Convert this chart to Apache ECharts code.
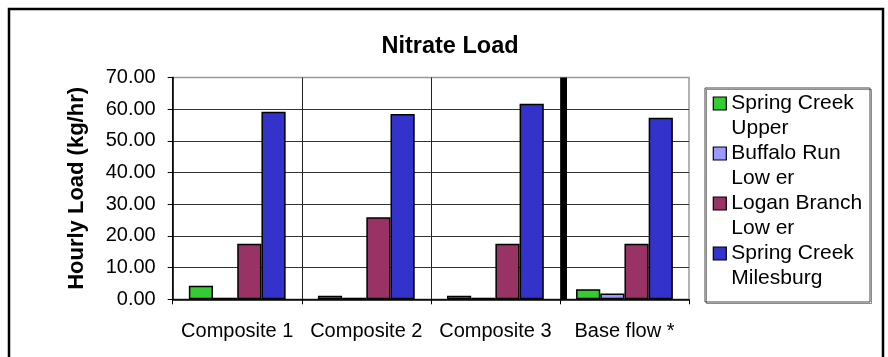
<!DOCTYPE html>
<html>
<head>
<meta charset="utf-8">
<script src="https://cdn.jsdelivr.net/npm/echarts@6/dist/echarts.min.js"></script>
<style>
html,body{margin:0;padding:0;background:#fff;}
#chart{width:888px;height:357px;}
</style>
</head>
<body>
<div id="chart"></div>
<script>
// ---- data ----
const categories = ['Composite 1', 'Composite 2', 'Composite 3', 'Base flow *'];
const seriesNames = ['Spring Creek\nUpper', 'Buffalo Run\nLow er', 'Logan Branch\nLow er', 'Spring Creek\nMilesburg'];
const springCreekUpper = [4.3, 1.1, 1.1, 3.2];
const buffaloRunLower = [0.5, 0.5, 0.5, 1.8];
const loganBranchLower = [17.5, 25.9, 17.5, 17.5];
const springCreekMilesburg = [59.2, 58.5, 61.7, 57.3];
const yTicks = [0, 10, 20, 30, 40, 50, 60, 70];
const dividerPosition = 3.03; // thick separator before "Base flow *"

const colors = ['#33cc33', '#9999ff', '#993366', '#3333cc'];
const values = [springCreekUpper, buffaloRunLower, loganBranchLower, springCreekMilesburg];
const FONT = 'Arial, "Liberation Sans", sans-serif';

const chart = echarts.init(document.getElementById('chart'), null, {renderer: 'canvas'});

const barSeries = seriesNames.map((n, i) => ({
  name: n,
  type: 'bar',
  data: values[i],
  barGap: '0%',
  barCategoryGap: '25%',
  itemStyle: {color: colors[i], borderColor: '#000', borderWidth: 1.5},
  emphasis: {disabled: true},
  animation: false
}));

chart.setOption({
  animation: false,
  backgroundColor: '#fff',
  title: {
    text: 'Nitrate Load',
    left: 445, textAlign: 'center',
    top: 30,
    textStyle: {fontFamily: FONT, fontSize: 23.5, fontWeight: 'bold', color: '#000'}
  },
  grid: {
    left: 172.7, right: 199, top: 77.5, bottom: 57.7,
    show: true, borderColor: '#999', borderWidth: 1.5, backgroundColor: 'transparent'
  },
  legend: {
    data: seriesNames,
    orient: 'vertical',
    left: 712.7, top: 66,
    padding: 0,
    itemGap: -25,
    itemWidth: 13, itemHeight: 13,
    icon: 'rect',
    selectedMode: false,
    formatter: name => ' \n' + name,
    itemStyle: {borderColor: '#000', borderWidth: 1.2},
    textStyle: {fontFamily: FONT, fontSize: 21, lineHeight: 25, color: '#000'}
  },
  xAxis: [{
    type: 'category',
    data: categories,
    axisLine: {lineStyle: {color: '#000', width: 1.5}},
    axisTick: {show: true, length: 5, interval: 0, lineStyle: {color: '#000'}},
    axisLabel: {fontFamily: FONT, fontSize: 20, color: '#000', margin: 22, interval: 0},
    splitLine: {show: true, interval: 0, showMaxLine: false, lineStyle: {color: '#222', width: 1}}
  }, {
    type: 'value', min: 0, max: 4, show: false,
    splitLine: {show: false}
  }],
  yAxis: {
    type: 'value',
    min: yTicks[0], max: yTicks[yTicks.length - 1], interval: 10,
    name: 'Hourly Load (kg/hr)',
    nameLocation: 'middle',
    nameGap: 85,
    nameTextStyle: {fontFamily: FONT, fontSize: 22, fontWeight: 'bold', color: '#000'},
    axisLine: {show: true, lineStyle: {color: '#000', width: 1.5}},
    axisTick: {show: true, length: 5, lineStyle: {color: '#000'}},
    axisLabel: {fontFamily: FONT, fontSize: 20, color: '#000', margin: 17,
      formatter: v => v.toFixed(2)},
    splitLine: {show: true, showMaxLine: false, lineStyle: {color: '#333', width: 1}}
  },
  series: barSeries.concat([{
    type: 'line',
    xAxisIndex: 1,
    yAxisIndex: 0,
    data: [],
    silent: true,
    markLine: {
      silent: true,
      symbol: 'none',
      label: {show: false},
      lineStyle: {color: '#000', width: 6, type: 'solid'},
      data: [{xAxis: dividerPosition}]
    }
  }]),
  graphic: [
    {type: 'rect', shape: {x: 9, y: 9, width: 874, height: 400},
     style: {fill: 'none', stroke: '#000', lineWidth: 2.5}, silent: true, z: 100},
    {type: 'rect', shape: {x: 705, y: 88, width: 165, height: 214},
     style: {fill: 'none', stroke: '#444', lineWidth: 1, shadowColor: 'rgba(0,0,0,0.45)', shadowOffsetX: 1.5, shadowOffsetY: 1.5, shadowBlur: 0},
     silent: true, z: 100}
  ]
});
</script>
</body>
</html>
